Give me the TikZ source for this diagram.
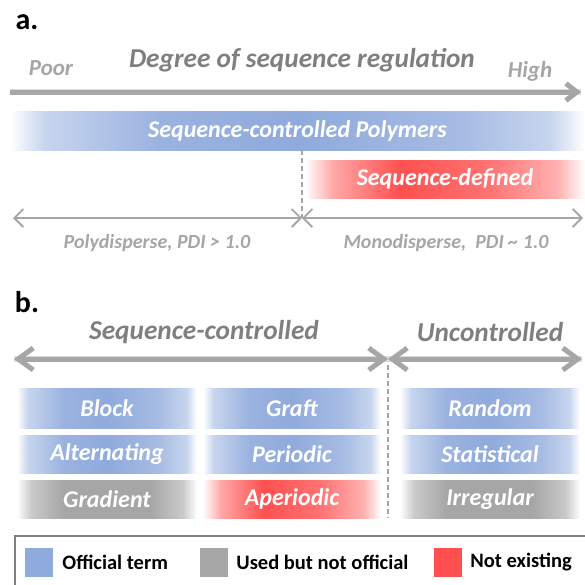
\documentclass[tikz,border=0pt]{standalone}
\usepackage{fontspec}
\setmainfont{Carlito}
\usetikzlibrary{arrows.meta,positioning}

\definecolor{offblue}{HTML}{8FAADC}
\definecolor{usedgray}{HTML}{A6A6A6}
\definecolor{nonred}{HTML}{FF5050}
\definecolor{titlegray}{HTML}{7F7F7F}
\definecolor{axisgray}{HTML}{A6A6A6}

% soft-edged fills (TikZ maps 25bp..75bp onto the path)
\pgfdeclarehorizontalshading{softblue}{100bp}{color(0bp)=(white); color(25bp)=(white);
  color(28bp)=(offblue!50); color(38bp)=(offblue!90); color(50bp)=(offblue);
  color(64bp)=(offblue!80); color(72bp)=(offblue!50); color(75bp)=(white); color(100bp)=(white)}
\pgfdeclarehorizontalshading{softgray}{100bp}{color(0bp)=(white); color(25bp)=(white);
  color(29bp)=(usedgray!60); color(38bp)=(usedgray); color(62bp)=(usedgray);
  color(71bp)=(usedgray!60); color(75bp)=(white); color(100bp)=(white)}
\pgfdeclarehorizontalshading{softred}{100bp}{color(0bp)=(white); color(25bp)=(white);
  color(30bp)=(nonred!50); color(42bp)=(nonred); color(58bp)=(nonred!80);
  color(70bp)=(nonred!45); color(75bp)=(white); color(100bp)=(white)}

\tikzset{
  panel/.style={font=\fontsize{30}{30}\selectfont\bfseries, text=black},
  heading/.style={font=\fontsize{27.3}{27.3}\selectfont\bfseries\itshape, text=titlegray},
  axislbl/.style={font=\fontsize{23}{23}\selectfont\bfseries\itshape, text=axisgray},
  rangelbl/.style={font=\fontsize{20}{20}\selectfont\bfseries\itshape, text=axisgray},
  termbox/.style={inner sep=0pt, text=white, font=\fontsize{24}{24}\selectfont\bfseries\itshape},
  bigarrow/.style={line width=5pt, draw=axisgray},
  shadow/.style={line width=6pt, draw=black!35, opacity=.4, shift={(2,4)}},
  thinarrow/.style={line width=1.8pt, draw=axisgray, {Straight Barb[length=9pt,width=18pt]}-{Straight Barb[length=9pt,width=18pt]}},
  bbarb/.style={{Straight Barb[length=15pt,width=22pt]}-{Straight Barb[length=15pt,width=22pt]}},
  divider/.style={line width=1.5pt, draw=axisgray, dash pattern=on 5pt off 3pt},
  legsq/.style={minimum width=28pt, minimum height=29pt, inner sep=0pt},
  legtxt/.style={font=\fontsize{20.5}{20.5}\selectfont\bfseries, text=black, inner sep=0pt},
}

\begin{document}
\begin{tikzpicture}[x=1pt, y=-1pt]
  \useasboundingbox (0,0) rectangle (585,584);

  % ---- a.
  \node [panel]   (a)      at (27,22)  {a.};
  \node [axislbl] (poor)   at (51,68)  {Poor};
  \node [heading] (degree) at (302,60) {Degree of sequence regulation};
  \node [axislbl] (high)   at (530,71) {High};

  \coordinate (axL) at (10,92);
  \coordinate (axR) at (581,92);
  \draw [shadow] (axL) -- (axR);
  \draw [bigarrow, -{Straight Barb[length=11pt,width=17pt]}] (axL) -- (axR);

  \node [termbox, shading=softblue, minimum width=575, minimum height=39]
        (scp)  at (297.5,130.5) {Sequence-controlled Polymers};
  \node [termbox, shading=softred, minimum width=280, minimum height=38]
        (sdef) at (445,179) {Sequence-defined};

  \coordinate (splitA) at (302,218);
  \coordinate (polyL)  at (13,218);
  \coordinate (monoR)  at (583,218);
  \draw [divider] (scp.south -| splitA) -- (splitA);
  \draw [thinarrow] (polyL) -- (splitA);
  \draw [thinarrow] (splitA) -- (monoR);

  \node [rangelbl] (poly) at (157,243) {Polydisperse, PDI > 1.0};
  \node [rangelbl] (mono) at (446,243) {Monodisperse,\ \ PDI \textasciitilde{} 1.0};

  % ---- b.
  \node [panel]   (b)   at (27,302) {b.};
  \node [heading] (sc)  at (204,332) {Sequence-controlled};
  \node [heading] (unc) at (490,332) {Uncontrolled};

  \coordinate (seqL)   at (14,359);
  \coordinate (splitB) at (388,359);
  \coordinate (uncR)   at (582,359);
  \coordinate (divEnd) at (388,518);
  \draw [shadow] (seqL) -- (uncR);
  \draw [bigarrow, bbarb] (seqL) -- (splitB);
  \draw [bigarrow, bbarb] (splitB) -- (uncR);
  \draw [divider] (splitB) ++(0,6) -- (divEnd);

  \node [termbox, shading=softblue, minimum width=180, minimum height=40] (block)  at (107,408) {Block};
  \node [termbox, shading=softblue, minimum width=178, minimum height=40] (graft)  at (292,408) {Graft};
  \node [termbox, shading=softblue, minimum width=180, minimum height=40] (random) at (490,408) {Random};

  \node [termbox, shading=softblue, minimum width=180, minimum height=38] (alt)    at (107,454) {Alternating};
  \node [termbox, shading=softblue, minimum width=178, minimum height=38] (period) at (292,454) {Periodic};
  \node [termbox, shading=softblue, minimum width=180, minimum height=38] (stat)   at (490,454) {Statistical};

  \node [termbox, shading=softgray, minimum width=180, minimum height=38] (grad)   at (107,499) {Gradient};
  \node [termbox, shading=softred,  minimum width=178, minimum height=38] (aper)   at (292,499) {Aperiodic};
  \node [termbox, shading=softgray, minimum width=180, minimum height=38] (irreg)  at (490,499) {Irregular};

  % ---- legend
  \draw [line width=1.5pt, draw=titlegray] (15,536) rectangle (595,595);
  \node [legsq, fill=offblue]  (sqblue) at (39,562.5)  {};
  \node [legtxt, right=9pt of sqblue] (official) {Official term};
  \node [legsq, fill=usedgray] (sqgray) at (214,562.5) {};
  \node [legtxt, right=8pt of sqgray] (used) {Used but not official};
  \node [legsq, fill=nonred]   (sqred)  at (448,562.5) {};
  \node [legtxt, right=8pt of sqred] (none) {Not existing};
\end{tikzpicture}
\end{document}
